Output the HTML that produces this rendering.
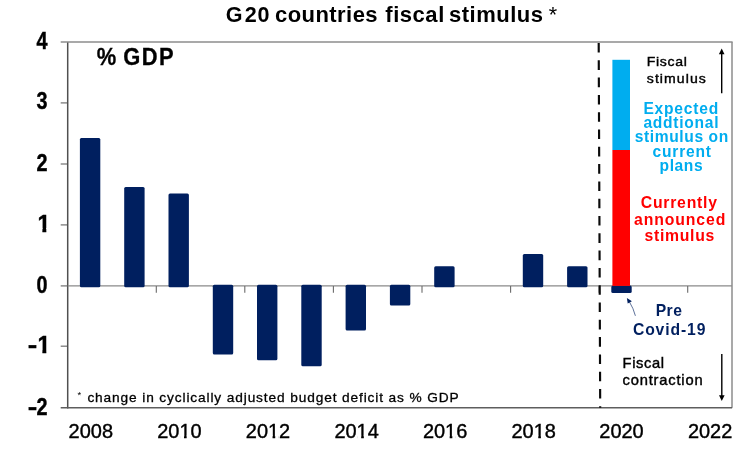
<!DOCTYPE html><html><head><meta charset="utf-8"><title>G20 countries fiscal stimulus</title>
<style>html,body{margin:0;padding:0;background:#fff}svg{display:block;filter:blur(0.35px)}text{font-family:"Liberation Sans",Arial,sans-serif}</style></head><body>
<svg width="750" height="452" viewBox="0 0 750 452">
<rect width="750" height="452" fill="#fff"/>
<g stroke="#8c8c8c" stroke-width="1.5" fill="none">
<line x1="60.7" y1="41.9" x2="732.6" y2="41.9"/>
<line x1="732.0" y1="41.9" x2="732.0" y2="407.7"/>
</g>
<g stroke="#7a7a7a" stroke-width="1.3" fill="none">
<line x1="60.7" y1="102.9" x2="67.7" y2="102.9"/>
<line x1="60.7" y1="164.0" x2="67.7" y2="164.0"/>
<line x1="60.7" y1="224.9" x2="67.7" y2="224.9"/>
<line x1="60.7" y1="285.9" x2="67.7" y2="285.9"/>
<line x1="60.7" y1="346.2" x2="67.7" y2="346.2"/>
</g>
<g stroke="#505050" stroke-width="1.5" fill="none">
<line x1="67.7" y1="42.6" x2="67.7" y2="408.4"/>
<line x1="60.7" y1="407.7" x2="732.1" y2="407.7" stroke="#5e5e5e"/>
</g>
<line x1="67.7" y1="285.9" x2="732.0" y2="285.9" stroke="#8a8a8a" stroke-width="1.3"/>
<g stroke="#6a6a6a" stroke-width="1.1" fill="none">
<line x1="156.3" y1="285.9" x2="156.3" y2="292.7"/>
<line x1="244.8" y1="285.9" x2="244.8" y2="292.7"/>
<line x1="333.4" y1="285.9" x2="333.4" y2="292.7"/>
<line x1="422.0" y1="285.9" x2="422.0" y2="292.7"/>
<line x1="510.6" y1="285.9" x2="510.6" y2="292.7"/>
<line x1="599.1" y1="285.9" x2="599.1" y2="292.7"/>
<line x1="687.7" y1="285.9" x2="687.7" y2="292.7"/>
</g>
<g fill="#001f5f">
<rect x="79.9" y="138.0" width="20.4" height="149.3" rx="1.5"/>
<rect x="124.2" y="187.0" width="20.4" height="100.3" rx="1.5"/>
<rect x="168.5" y="193.4" width="20.4" height="93.9" rx="1.5"/>
<rect x="434.2" y="266.3" width="20.4" height="21.0" rx="1.5"/>
<rect x="522.8" y="254.0" width="20.4" height="33.3" rx="1.5"/>
<rect x="567.1" y="266.3" width="20.4" height="21.0" rx="1.5"/>
<rect x="212.8" y="284.7" width="20.4" height="69.8" rx="1.5"/>
<rect x="257.0" y="284.7" width="20.4" height="75.6" rx="1.5"/>
<rect x="301.3" y="284.7" width="20.4" height="81.5" rx="1.5"/>
<rect x="345.6" y="284.7" width="20.4" height="45.7" rx="1.5"/>
<rect x="389.9" y="284.7" width="20.4" height="20.8" rx="1.5"/>
<rect x="611.3" y="285.6" width="20.4" height="7.4" rx="1.5"/>
</g>
<rect x="612.4" y="150.0" width="17.6" height="135.9" fill="#ff0000"/>
<rect x="612.4" y="59.8" width="17.6" height="90.2" fill="#00adef"/>
<line x1="598.7" y1="43.0" x2="600.2" y2="407.7" stroke="#0a0a0a" stroke-width="2.15" stroke-dasharray="9.6 7.7"/>
<g stroke="#000" stroke-width="1.4" fill="#000">
<line x1="721.7" y1="52" x2="721.7" y2="93.2"/><polygon points="721.7,48.6 724.5,54.2 718.9,54.2" stroke="none"/>
<line x1="721.8" y1="353.9" x2="721.8" y2="397"/><polygon points="721.8,401 724.6,395.2 719,395.2" stroke="none"/>
</g>
<path d="M635.4 315.8 Q633.4 308.2 629.4 301.8" stroke="#001f5f" stroke-width="0.8" stroke-opacity="0.8" fill="none"/>
<polygon points="626.9,298.0 631.9,301.3 627.7,303.5" fill="#001f5f"/>
<text transform="translate(225.8,22.4) scale(0.95,1)" font-size="22.7" font-weight="bold" x="0 19.89 33.47">G20</text>
<text transform="translate(275.1,22.4) scale(0.97,1)" font-size="22.7" font-weight="bold" textLength="105.6" lengthAdjust="spacing">countries</text>
<text transform="translate(385.3,22.4) scale(0.97,1)" font-size="22.7" font-weight="bold" textLength="60.8" lengthAdjust="spacing">fiscal</text>
<text transform="translate(449.1,22.4) scale(0.97,1)" font-size="22.7" font-weight="bold" textLength="96.7" lengthAdjust="spacing">stimulus</text>
<text transform="translate(548.8,21.599999999999998) scale(0.95,1)" font-size="22.7">*</text>
<text transform="translate(96.8,65.2) scale(0.94,1)" font-size="23.3" font-weight="bold" stroke="#000" stroke-width="0.3">%</text>
<text transform="translate(123.2,65.2) scale(0.94,1)" font-size="23.3" font-weight="bold" textLength="53.7" lengthAdjust="spacing" stroke="#000" stroke-width="0.3">GDP</text>
<text transform="translate(36.5,49.2) scale(0.86,1)" font-size="23.0" font-weight="bold" stroke="#000" stroke-width="0.4">4</text>
<text transform="translate(36.5,109.3) scale(0.86,1)" font-size="23.0" font-weight="bold" stroke="#000" stroke-width="0.4">3</text>
<text transform="translate(36.5,171.4) scale(0.86,1)" font-size="23.0" font-weight="bold" stroke="#000" stroke-width="0.4">2</text>
<clipPath id="c1"><rect x="24" y="209.5" width="28" height="18.6"/><rect x="42.4" y="228.0" width="3.9" height="5"/></clipPath>
<g clip-path="url(#c1)"><text transform="translate(37.41,231.5) scale(1.0,1)" font-size="23.0" font-weight="bold" stroke="#000" stroke-width="0.4">1</text></g>
<text transform="translate(36.5,293.0) scale(0.86,1)" font-size="23.0" font-weight="bold" stroke="#000" stroke-width="0.4">0</text>
<clipPath id="c1n"><rect x="24" y="331.4" width="28" height="18.6"/><rect x="42.4" y="349.9" width="3.9" height="5"/></clipPath>
<g clip-path="url(#c1n)"><text transform="translate(37.41,353.4) scale(1.0,1)" font-size="23.0" font-weight="bold" stroke="#000" stroke-width="0.4"><tspan x="-9.71" textLength="9.50" lengthAdjust="spacingAndGlyphs">-</tspan><tspan x="0">1</tspan></text></g>
<text transform="translate(36.5,415.1) scale(0.86,1)" font-size="23.0" font-weight="bold" stroke="#000" stroke-width="0.4"><tspan x="-10.23" textLength="11.05" lengthAdjust="spacingAndGlyphs">-</tspan><tspan x="0">2</tspan></text>
<text transform="translate(90.8,438.3) scale(0.97,1)" font-size="20.6" text-anchor="middle" stroke="#000" stroke-width="0.4">2008</text>
<clipPath id="cx2010"><rect x="153.4" y="418.3" width="52" height="17.1"/><rect x="153.4" y="435.3" width="26.9" height="5"/><rect x="184.0" y="435.3" width="2.6" height="5"/><rect x="190.1" y="435.3" width="16" height="5"/></clipPath>
<g clip-path="url(#cx2010)">
<text transform="translate(179.4,438.3) scale(0.97,1)" font-size="20.6" text-anchor="middle" stroke="#000" stroke-width="0.4">2010</text>
</g>
<clipPath id="cx2012"><rect x="242.0" y="418.3" width="52" height="17.1"/><rect x="242.0" y="435.3" width="26.9" height="5"/><rect x="272.6" y="435.3" width="2.6" height="5"/><rect x="278.7" y="435.3" width="16" height="5"/></clipPath>
<g clip-path="url(#cx2012)">
<text transform="translate(268.0,438.3) scale(0.97,1)" font-size="20.6" text-anchor="middle" stroke="#000" stroke-width="0.4">2012</text>
</g>
<clipPath id="cx2014"><rect x="330.6" y="418.3" width="52" height="17.1"/><rect x="330.6" y="435.3" width="26.9" height="5"/><rect x="361.2" y="435.3" width="2.6" height="5"/><rect x="367.3" y="435.3" width="16" height="5"/></clipPath>
<g clip-path="url(#cx2014)">
<text transform="translate(356.6,438.3) scale(0.97,1)" font-size="20.6" text-anchor="middle" stroke="#000" stroke-width="0.4">2014</text>
</g>
<clipPath id="cx2016"><rect x="419.1" y="418.3" width="52" height="17.1"/><rect x="419.1" y="435.3" width="26.9" height="5"/><rect x="449.7" y="435.3" width="2.6" height="5"/><rect x="455.8" y="435.3" width="16" height="5"/></clipPath>
<g clip-path="url(#cx2016)">
<text transform="translate(445.1,438.3) scale(0.97,1)" font-size="20.6" text-anchor="middle" stroke="#000" stroke-width="0.4">2016</text>
</g>
<clipPath id="cx2018"><rect x="507.70000000000005" y="418.3" width="52" height="17.1"/><rect x="507.7" y="435.3" width="26.9" height="5"/><rect x="538.3" y="435.3" width="2.6" height="5"/><rect x="544.4" y="435.3" width="16" height="5"/></clipPath>
<g clip-path="url(#cx2018)">
<text transform="translate(533.7,438.3) scale(0.97,1)" font-size="20.6" text-anchor="middle" stroke="#000" stroke-width="0.4">2018</text>
</g>
<text transform="translate(621.5,438.3) scale(0.97,1)" font-size="20.6" text-anchor="middle" stroke="#000" stroke-width="0.4">2020</text>
<text transform="translate(710.1,438.3) scale(0.97,1)" font-size="20.6" text-anchor="middle" stroke="#000" stroke-width="0.4">2022</text>
<text x="77.6" y="398.4" font-size="9.5">*</text>
<text x="87.4" y="401.5" font-size="13.7" textLength="371.2" lengthAdjust="spacing" stroke="#000" stroke-width="0.3">change in cyclically adjusted budget deficit as % GDP</text>
<text transform="translate(646.8,66.2) scale(1.05,1)" font-size="13.4" textLength="38.1" lengthAdjust="spacing" stroke="#000" stroke-width="0.4">Fiscal</text>
<text transform="translate(646.8,83.0) scale(1.05,1)" font-size="13.4" textLength="56.2" lengthAdjust="spacing" stroke="#000" stroke-width="0.4">stimulus</text>
<text transform="translate(622.6,368.4) scale(1.03,1)" font-size="14.3" textLength="40.3" lengthAdjust="spacing" stroke="#000" stroke-width="0.4">Fiscal</text>
<text transform="translate(622.6,385.2) scale(1.03,1)" font-size="14.3" textLength="77.7" lengthAdjust="spacing" stroke="#000" stroke-width="0.4">contraction</text>
<text transform="translate(643.4,113.5) scale(0.94,1)" font-size="16.6" font-weight="bold" fill="#00adef" textLength="79.6" lengthAdjust="spacing">Expected</text>
<text transform="translate(643.4,128) scale(0.94,1)" font-size="16.6" font-weight="bold" fill="#00adef" textLength="80.0" lengthAdjust="spacing">addtional</text>
<text transform="translate(634.8000000000001,142.3) scale(0.94,1)" font-size="16.6" font-weight="bold" fill="#00adef" textLength="99.4" lengthAdjust="spacing">stimulus on</text>
<text transform="translate(652.5,156.6) scale(0.94,1)" font-size="16.6" font-weight="bold" fill="#00adef" textLength="62.3" lengthAdjust="spacing">current</text>
<text transform="translate(659.6,171) scale(0.94,1)" font-size="16.6" font-weight="bold" fill="#00adef" textLength="45.7" lengthAdjust="spacing">plans</text>
<text transform="translate(640.8000000000001,208.2) scale(0.94,1)" font-size="16.8" font-weight="bold" fill="#ff0000" textLength="81.0" lengthAdjust="spacing">Currently</text>
<text transform="translate(634.0,224.8) scale(0.94,1)" font-size="16.8" font-weight="bold" fill="#ff0000" textLength="97.2" lengthAdjust="spacing">announced</text>
<text transform="translate(644.6,241.4) scale(0.94,1)" font-size="16.8" font-weight="bold" fill="#ff0000" textLength="74.1" lengthAdjust="spacing">stimulus</text>
<text x="655.7" y="316.1" font-size="15.7" font-weight="bold" fill="#001f5f" textLength="26.2" lengthAdjust="spacing">Pre</text>
<text x="632.9" y="334.8" font-size="15.7" font-weight="bold" fill="#001f5f" textLength="72.5" lengthAdjust="spacing">Covid-19</text>
</svg></body></html>
